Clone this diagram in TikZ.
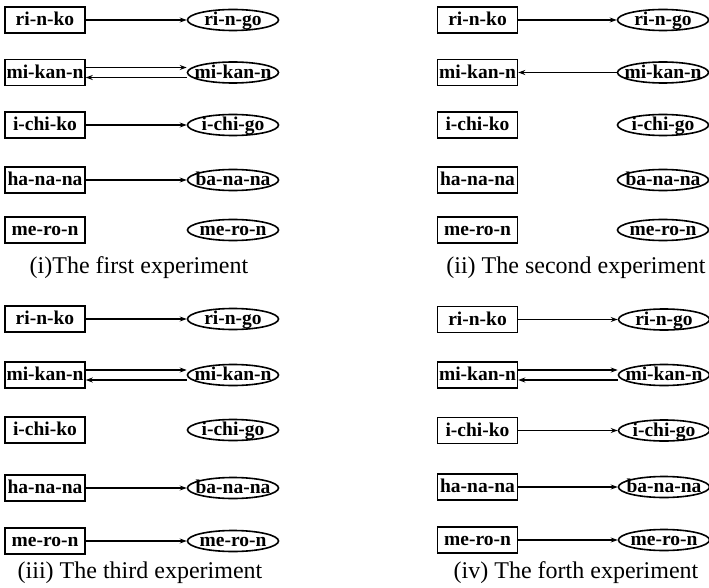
\documentclass[tikz,border=0pt]{standalone}
\usepackage{fontspec}
\setmainfont{Liberation Serif}
\usetikzlibrary{shapes.geometric,arrows.meta}

\tikzset{
  word/.style={draw, line width=1.5pt, minimum width=80pt, minimum height=26pt,
    inner sep=0pt, font=\fontsize{19.5}{19.5}\selectfont\bfseries},
  oval/.style={draw, ellipse, line width=1.6pt, minimum width=91pt, minimum height=21pt,
    inner sep=0pt, font=\fontsize{19.5}{19.5}\selectfont\bfseries},
  link/.style={line width=1.2pt, -{Stealth[length=7pt,width=5pt]}},
  caption/.style={font=\fontsize{24}{24}\selectfont, inner sep=0pt},
}

% label text of zero size, centred on the node
\newcommand\lbl[1]{\makebox[0pt]{\smash{\raisebox{-0.3em}{#1}}}}

% one panel: prefix, box x, oval x, five row heights
\newcommand\fruitpanel[8]{%
  \node[word] (#1a1) at (#2,#4) {\lbl{ri-n-ko}};
  \node[oval] (#1b1) at (#3,#4) {\lbl{ri-n-go}};
  \node[word] (#1a2) at (#2,#5) {\lbl{mi-kan-n}};
  \node[oval] (#1b2) at (#3,#5) {\lbl{mi-kan-n}};
  \node[word] (#1a3) at (#2,#6) {\lbl{i-chi-ko}};
  \node[oval] (#1b3) at (#3,#6) {\lbl{i-chi-go}};
  \node[word] (#1a4) at (#2,#7) {\lbl{ha-na-na}};
  \node[oval] (#1b4) at (#3,#7) {\lbl{ba-na-na}};
  \node[word] (#1a5) at (#2,#8) {\lbl{me-ro-n}};
  \node[oval] (#1b5) at (#3,#8) {\lbl{me-ro-n}};
}

% a pair of opposite arrows between the two mi-kan-n nodes
\newcommand\twoway[1]{%
  \draw[link] ([yshift=5pt]#1a2.east) -- ([yshift=5pt]#1b2.west);
  \draw[link] ([yshift=-5pt]#1b2.west) -- ([yshift=-5pt]#1a2.east);
}

\begin{document}
\begin{tikzpicture}[x=1pt, y=-1pt]
  \useasboundingbox (0,0) rectangle (709,588);

  \fruitpanel{i}{45}{233}{20}{72.5}{125}{180}{230}
  \fruitpanel{ii}{477.5}{663}{20}{72.5}{125}{180}{230}
  \fruitpanel{iii}{45}{233}{319}{375}{430}{488}{541}
  \fruitpanel{iv}{477.5}{664}{319.5}{375}{430.5}{487}{540}

  % first experiment
  \draw[link] (ia1) -- (ib1);
  \twoway{i}
  \draw[link] (ia3) -- (ib3);
  \draw[link] (ia4) -- (ib4);

  % second experiment
  \draw[link] (iia1) -- (iib1);
  \draw[link] (iib2) -- (iia2);

  % third experiment
  \draw[link] (iiia1) -- (iiib1);
  \twoway{iii}
  \draw[link] (iiia4) -- (iiib4);
  \draw[link] (iiia5) -- (iiib5);

  % fourth experiment
  \draw[link] (iva1) -- (ivb1);
  \twoway{iv}
  \draw[link] (iva3) -- (ivb3);
  \draw[link] (iva4) -- (ivb4);
  \draw[link] (iva5) -- (ivb5);

  \node[caption] (capi) at (139,268) {(i)The first experiment};
  \node[caption] (capii) at (576,268) {(ii) The second experiment};
  \node[caption] (capiii) at (140,573) {(iii) The third experiment};
  \node[caption] (capiv) at (576,573) {(iv) The forth experiment};
\end{tikzpicture}
\end{document}
